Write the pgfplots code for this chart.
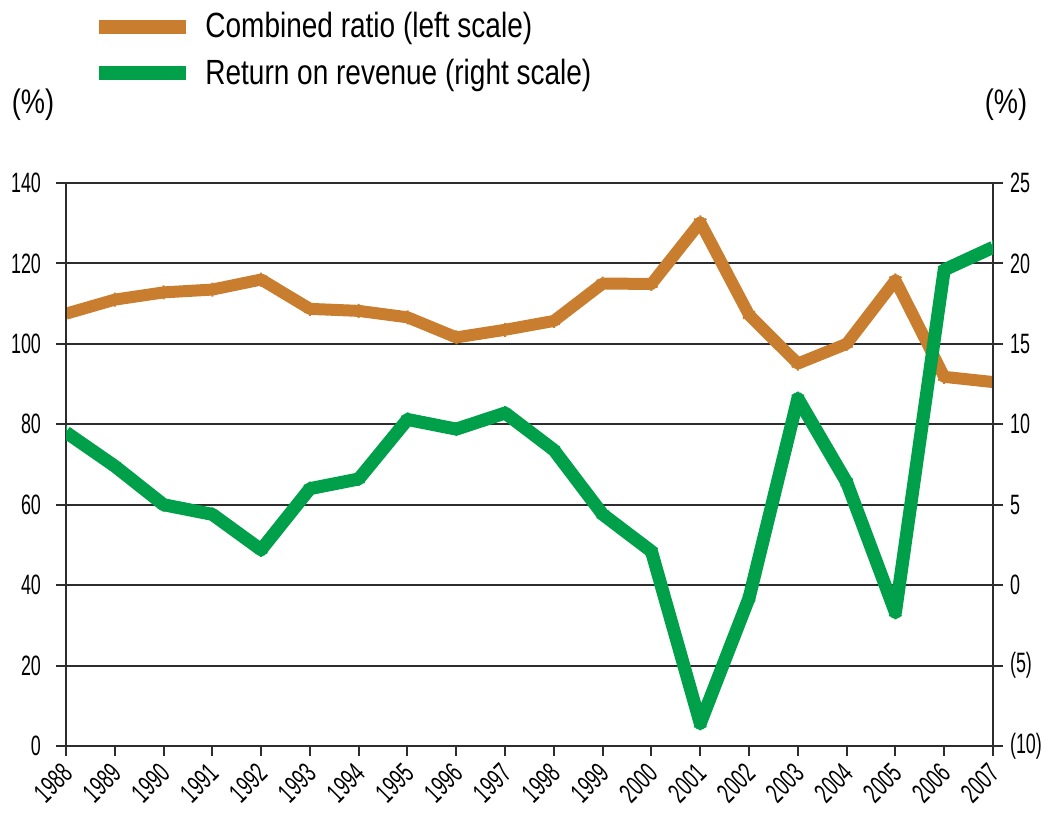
\documentclass[border=0pt]{standalone}
\usepackage{fontspec}
\setmainfont{Liberation Sans}[FakeStretch=0.8]
\newfontfamily\tickfont{Liberation Sans}[FakeStretch=0.64]
\usepackage{pgfplots}
\pgfplotsset{compat=1.18}
\definecolor{cratio}{RGB}{201,125,46}
\definecolor{ror}{RGB}{0,160,75}
\definecolor{gridc}{RGB}{45,45,45}

\begin{document}
\begin{tikzpicture}
\useasboundingbox (-33pt,-37.5pt) rectangle (489.5pt,373pt);
\pgfplotsset{
  every axis/.append style={
    width=463.5pt, height=281.5pt, scale only axis,
    xmin=1988, xmax=2007,
    clip mode=individual, clip marker paths=true,
    /pgf/number format/assume math mode=true,
    tick label style={font=\tickfont\fontsize{14}{16}\selectfont},
    tick align=outside,
    major tick length=5pt,
    axis line style={gridc, line width=1pt},
    major tick style={gridc, line width=1pt},
  }
}
\begin{axis}[
  tick pos=left,
  ymin=0, ymax=140, ytick={0,20,...,140},
  yticklabel style={xshift=-4pt},
  xtick={1988,...,2007},
  xticklabel style={xshift=3pt, yshift=-4pt, rotate=45, anchor=east,
    /pgf/number format/1000 sep={}},
  ymajorgrids, grid style={gridc, line width=1pt},
  legend style={at={(0.0216,1.318)}, anchor=north west,
    draw=none, fill=none, row sep=5pt, column sep=4pt,
    font=\fontsize{17.5}{20}\selectfont},
  legend cell align=left,
  legend image code/.code={\draw[line width=7pt] (0pt,0pt) -- (43.5pt,0pt);},
]
  \addplot[cratio, line width=6pt, line join=round,
    mark=asterisk, mark size=3.5pt, mark options={line width=1pt}] coordinates {
    (1988,107.5) (1989,111.0) (1990,112.8) (1991,113.5) (1992,116.0)
    (1993,108.7) (1994,108.2) (1995,106.6) (1996,101.6) (1997,103.5)
    (1998,105.7) (1999,115.0) (2000,114.9) (2001,130.2) (2002,107.2)
    (2003,95.1) (2004,100.0) (2005,115.8) (2006,91.8) (2007,90.5)
  };
  \addlegendentry{Combined ratio (left scale)}
  \addlegendimage{ror, line width=6pt}
  \addlegendentry{Return on revenue (right scale)}
  \node[font=\fontsize{17}{19}\selectfont] at (rel axis cs:-0.0356,1.1385) {(\%)};
  \node[font=\fontsize{17}{19}\selectfont] at (rel axis cs:1.014,1.1385) {(\%)};
\end{axis}
\begin{axis}[
  ymin=-10, ymax=25, ytick={-10,-5,...,25},
  yticklabels={(10),(5),0,5,10,15,20,25},
  yticklabel style={anchor=west, xshift=0pt},
  ytick pos=right, xtick=\empty,
]
  \addplot[ror, line width=6.5pt, line join=round,
    mark=asterisk, mark size=3.5pt, mark options={line width=1pt}] coordinates {
    (1988,9.5) (1989,7.4) (1990,5.0) (1991,4.4) (1992,2.2)
    (1993,6.0) (1994,6.6) (1995,10.3) (1996,9.7) (1997,10.7)
    (1998,8.4) (1999,4.4) (2000,2.1) (2001,-8.6) (2002,-0.8)
    (2003,11.6) (2004,6.4) (2005,-1.7) (2006,19.6) (2007,21.0)
  };
\end{axis}
\end{tikzpicture}
\end{document}
